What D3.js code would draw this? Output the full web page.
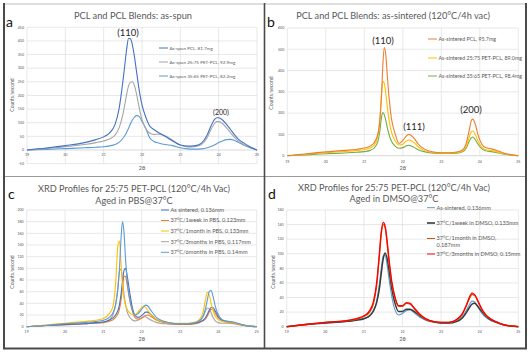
<!DOCTYPE html>
<html><head><meta charset="utf-8">
<script src="https://cdn.jsdelivr.net/npm/d3@7"></script>
<style>body{margin:0;background:#fff}svg{display:block}text{font-family:Lato,"Open Sans",sans-serif}</style>
</head><body>
<svg id="chart" width="530" height="356"></svg>
<script>
// ---------- DATA ----------
const xTicks = [19, 20, 21, 22, 23, 24, 25];
// Panel a: as-spun
const aYTicks = [-50, 0, 50, 100, 150, 200, 250, 300, 350, 400, 450];
const aTheta = [19,19.5,20,20.5,20.8,21.0,21.15,21.3,21.4,21.5,21.55,21.6,21.65,21.7,21.75,21.8,21.85,21.9,21.95,22.0,22.1,22.2,22.3,22.45,22.6,22.8,23.0,23.2,23.4,23.55,23.7,23.8,23.9,23.95,24.0,24.1,24.2,24.3,24.4,24.5,24.65,24.8,25];
const aPCL   = [0,7,16,27,38,48,62,95,150,250,310,370,410,408,385,345,295,245,200,165,120,88,76,62,50,33,18,14,16,25,55,88,113,118,118,110,95,77,58,42,26,13,0];
const aPET25 = [0,5,12,20,27,33,40,55,80,130,165,205,235,248,250,238,210,175,140,112,78,62,57,58,52,36,18,11,13,20,45,75,98,104,104,97,82,65,48,34,20,10,0];
const aPET35 = [0,2,5,8,10,12,15,20,28,42,52,65,80,96,110,120,126,125,118,105,78,45,32,25,20,16,8,4,3,4,8,13,19,23,27,33,38,39,36,29,18,9,0];
const aLabels = ["As-spun PCL, 81.7mg", "As-spun 25:75 PET-PCL, 92.9mg", "As-spun 35:65 PET-PCL, 82.2mg"];

// Panel b: as-sintered
const bYTicks = [0, 100, 200, 300, 400, 500, 600];
const bTheta = [19,19.5,20,20.5,20.8,21.0,21.15,21.25,21.35,21.4,21.45,21.48,21.52,21.56,21.6,21.65,21.7,21.8,21.9,22.0,22.1,22.15,22.2,22.3,22.4,22.55,22.8,23.0,23.2,23.4,23.55,23.65,23.72,23.78,23.82,23.88,23.95,24.05,24.15,24.3,24.45,24.6,24.8,25];
const bPCL   = [0,9,18,25,30,36,45,60,100,160,290,420,508,470,370,260,180,105,57,72,94,100,97,80,55,32,17,14,14,17,27,60,115,165,172,150,100,55,38,32,24,14,5,0];
const bPET25 = [0,7,14,20,24,28,36,48,90,160,300,350,340,290,225,160,115,70,50,54,70,74,72,60,42,25,14,12,12,14,22,45,85,112,116,100,70,40,28,24,18,10,4,0];
const bPET35 = [0,4,9,13,16,19,25,35,65,110,185,203,192,165,130,95,70,45,35,38,47,49,47,38,28,19,12,11,11,12,18,36,65,85,88,76,55,33,23,19,14,8,3,0];
const bLabels = ["As-sintered PCL, 95.7mg", "As-sintered 25:75 PET-PCL, 89.0mg", "As-sintered 35:65 PET-PCL, 98.4mg"];

// Panel c: aged in PBS
const cYTicks = [0, 20, 40, 60, 80, 100, 120, 140, 160, 180, 200];
const cTheta = [19,19.5,20,20.5,20.8,21.0,21.15,21.25,21.32,21.38,21.42,21.46,21.5,21.54,21.58,21.62,21.68,21.75,21.82,21.9,22.0,22.05,22.1,22.15,22.25,22.4,22.6,22.8,23.0,23.2,23.4,23.5,23.6,23.66,23.71,23.76,23.81,23.86,23.92,24.0,24.1,24.2,24.3,24.4,24.5,24.65,24.8,25];
const cAsSintered = [0,2,4,5,7,8,11,15,20,28,38,55,78,97,100,88,62,35,20,16,19,22,25,25,20,12,8,6,5,5,6,8,11,15,21,28,33,33,27,17,11,9,8,7,5,3,1,0];
const c1Week      = [0,2,3,5,6,7,9,12,16,22,30,45,68,87,86,72,48,28,16,13,15,17,19,20,17,11,7,5,4,4,5,7,10,13,18,25,30,29,23,15,10,8,7,6,5,3,1,0];
const c1Month     = [0,3,6,9,11,14,22,35,75,140,147,110,70,48,36,30,24,21,21,25,33,35,33,29,20,12,8,6,6,6,8,12,25,45,59,55,40,28,18,12,9,8,8,7,5,3,1,0];
const c3Months    = [0,2,4,5,7,8,12,20,38,70,95,99,80,55,38,26,17,12,10,11,15,17,17,15,11,7,5,4,4,4,6,9,17,26,32,31,24,16,10,7,6,6,6,5,4,2,1,0];
const c6Months    = [0,2,5,7,9,11,16,24,38,65,100,150,180,160,115,80,50,30,20,22,30,34,37,36,27,15,9,6,5,5,7,10,18,30,45,60,62,52,35,20,12,10,9,8,6,3,1,0];
const cLabels = ["As sintered, 0.136mm", "37°C/1week in PBS, 0.123mm", "37°C/1month in PBS, 0.133mm", "37°C/3months in PBS, 0.117mm", "37°C/6months in PBS, 0.14mm"];

// Panel d: aged in DMSO
const dYTicks = [0, 20, 40, 60, 80, 100, 120, 140, 160];
const dTheta = [19,19.5,20,20.5,20.8,21.0,21.15,21.25,21.33,21.4,21.45,21.5,21.55,21.6,21.66,21.72,21.8,21.9,22.0,22.1,22.2,22.3,22.45,22.6,22.8,23.0,23.2,23.4,23.55,23.65,23.73,23.8,23.87,23.95,24.05,24.15,24.3,24.45,24.6,24.8,25];
const dAsSintered = [0,3,5,7,9,11,15,22,35,58,80,97,98,85,62,42,24,16,18,22,23,19,13,9,6,5,5,8,14,22,30,35,34,27,19,13,8,5,3,1,0];
const d1Week      = [0,3,5,7,9,11,15,22,33,52,73,93,101,94,74,53,33,21,21,24,24,21,15,10,7,5,5,7,12,19,26,31,32,28,21,15,9,6,3,1,0];
const d1Month     = [0,3,6,8,10,14,20,32,56,96,127,140,136,115,85,60,40,28,28,32,31,25,16,10,7,6,6,9,17,28,38,44,43,35,24,16,10,6,3,1,0];
const d3Months    = [0,3,6,8,11,15,22,35,60,100,130,143,138,118,88,63,42,29,29,33,32,26,17,11,7,6,6,10,18,29,40,46,44,36,25,17,10,6,3,1,0];
const dLabels = ["As-sintered, 0.136mm", "37°C/1week in DMSO, 0.133mm", ["37°C/1month in DMSO,", "0.187mm"], "37°C/3months in DMSO, 0.15mm"];

// ---------- DRAW ----------
const svg = d3.select("#chart");
const TXT = "#595959", GRID = "#d9d9d9";

function fitFont(sel, target) {
  const w = sel.node().getComputedTextLength();
  const fs = parseFloat(sel.attr("font-size"));
  sel.attr("font-size", (fs * target / w).toFixed(2));
}

function panel(o) {
  const g = svg.append("g");
  const x = d3.scaleLinear().domain([19, 25]).range(o.xr);
  const y = d3.scaleLinear().domain(o.yd).range(o.yr);
  // grid
  g.selectAll(".hg").data(o.yTicks).join("line")
    .attr("x1", o.xr[0]).attr("x2", o.xr[1])
    .attr("y1", d => y(d)).attr("y2", d => y(d))
    .attr("stroke", d => d === 0 ? "#bfbfbf" : GRID).attr("stroke-width", 0.6);
  g.selectAll(".vg").data(xTicks).join("line")
    .attr("x1", d => x(d)).attr("x2", d => x(d))
    .attr("y1", y(o.yd[1])).attr("y2", y(o.yd[0]))
    .attr("stroke", GRID).attr("stroke-width", 0.6);
  // tick labels
  g.selectAll(".yl").data(o.yTicks).join("text")
    .attr("x", o.xr[0] - 3).attr("y", d => y(d)).attr("dy", "0.35em")
    .attr("text-anchor", "end").attr("font-size", 3.6).attr("fill", TXT).text(d => d);
  g.selectAll(".xl").data(xTicks).join("text")
    .attr("x", d => x(d)).attr("y", o.xLabY)
    .attr("text-anchor", "middle").attr("font-size", 3.6).attr("fill", TXT).text(d => d);
  g.append("text").attr("x", (o.xr[0] + o.xr[1]) / 2).attr("y", o.xTitleY)
    .attr("text-anchor", "middle").attr("font-size", 5.5).attr("fill", TXT).text("2θ");
  g.append("text").attr("transform", `translate(${o.yTitleX},${o.yTitleY}) rotate(-90)`)
    .attr("text-anchor", "middle").attr("font-size", 5).attr("fill", TXT).text("Counts/second");
  // series
  const line = d3.line().x(d => x(d[0])).y(d => y(d[1])).curve(d3.curveMonotoneX);
  o.series.forEach(s => {
    g.append("path").attr("d", line(o.theta.map((t, i) => [t, s.v[i]])))
      .attr("fill", "none").attr("stroke", s.c).attr("stroke-width", s.w || 1.1)
      .attr("stroke-linejoin", "round");
  });
  // legend
  o.legend.forEach((s, i) => {
    const ly = o.legY[i];
    g.append("line").attr("x1", o.legX).attr("x2", o.legX + o.legLen)
      .attr("y1", ly).attr("y2", ly).attr("stroke", s.c).attr("stroke-width", s.w || 1);
    const lines = Array.isArray(s.label) ? s.label : [s.label];
    lines.forEach((t, j) => {
      g.append("text").attr("x", o.legX + o.legLen + 1.5).attr("y", ly + j * o.legFs * 1.25)
        .attr("dy", "0.35em").attr("font-size", o.legFs).attr("fill", TXT).text(t);
    });
  });
  // titles
  o.title.forEach((t, i) => {
    const tt = g.append("text").attr("x", o.titleX).attr("y", o.titleY[i])
      .attr("text-anchor", "middle").attr("font-size", 10).attr("fill", TXT).text(t);
    if (o.titleW[i]) fitFont(tt, o.titleW[i]);
  });
  g.append("text").attr("x", o.letter[0]).attr("y", o.letter[1])
    .attr("font-size", 14).attr("fill", "#111").text(o.letter[2]);
  (o.notes || []).forEach(n => {
    g.append("text").attr("x", n[0]).attr("y", n[1]).attr("text-anchor", "middle")
      .attr("font-size", n[3]).attr("fill", "#262626").text(n[2]);
  });
}

const ca = ["#4472C4", "#A5A5A5", "#5B9BD5"];
panel({
  xr: [27, 257], yd: [-50, 450], yr: [163.6, 27.3], yTicks: aYTicks, theta: aTheta,
  xLabY: 155.5, xTitleY: 170, yTitleX: 14, yTitleY: 95,
  series: [{v: aPET35, c: ca[2]}, {v: aPET25, c: ca[1]}, {v: aPCL, c: ca[0]}],
  legend: aLabels.map((l, i) => ({label: l, c: ca[i]})),
  legX: 159, legLen: 9, legY: [48, 62, 76], legFs: 4.6,
  title: ["PCL and PCL Blends: as-spun"], titleX: 133, titleY: [19.3], titleW: [118],
  letter: [6, 27, "a"],
  notes: [[128, 36, "(110)", 9.5], [221, 115, "(200)", 7]]
});

const cb = ["#ED7D31", "#FFC000", "#70AD47"];
panel({
  xr: [287.3, 518.3], yd: [0, 600], yr: [155.7, 28], yTicks: bYTicks, theta: bTheta,
  xLabY: 163, xTitleY: 170, yTitleX: 273, yTitleY: 93,
  series: [{v: bPET35, c: cb[2]}, {v: bPET25, c: cb[1]}, {v: bPCL, c: cb[0]}],
  legend: bLabels.map((l, i) => ({label: l, c: cb[i]})),
  legX: 428, legLen: 9, legY: [39, 58, 76], legFs: 5.3,
  title: ["PCL and PCL Blends: as-sintered (120°C/4h vac)"], titleX: 393, titleY: [19.3], titleW: [194],
  letter: [267, 27, "b"],
  notes: [[383, 43.5, "(110)", 9.5], [414, 129.5, "(111)", 9.5], [471, 113, "(200)", 9.5]]
});

const cc = ["#4472C4", "#ED7D31", "#FFC000", "#A5A5A5", "#5B9BD5"];
panel({
  xr: [26.7, 256.7], yd: [0, 200], yr: [326.7, 210], yTicks: cYTicks, theta: cTheta,
  xLabY: 333, xTitleY: 341, yTitleX: 14, yTitleY: 272,
  series: [{v: c3Months, c: cc[3]}, {v: c1Week, c: cc[1]}, {v: cAsSintered, c: cc[0]}, {v: c1Month, c: cc[2]}, {v: c6Months, c: cc[4]}],
  legend: cLabels.map((l, i) => ({label: l, c: cc[i]})),
  legX: 161, legLen: 8, legY: [210, 220.5, 231, 241.7, 252.3], legFs: 5.6,
  title: ["XRD Profiles for 25:75 PET-PCL (120°C/4h Vac)", "Aged in PBS@37°C"], titleX: 134, titleY: [192.3, 203.5], titleW: [192, 0],
  letter: [8, 198.5, "c"]
});

const cd = ["#5B9BD5", "#3a3a3a", "#C55A11", "#FF0000"];
panel({
  xr: [286.7, 518.3], yd: [0, 160], yr: [326.7, 210], yTicks: dYTicks, theta: dTheta,
  xLabY: 333, xTitleY: 341, yTitleX: 275, yTitleY: 272,
  series: [{v: dAsSintered, c: cd[0], w: 1.1}, {v: d1Week, c: cd[1], w: 1.5}, {v: d1Month, c: cd[2], w: 1.3}, {v: d3Months, c: cd[3], w: 1.3}],
  legend: dLabels.map((l, i) => ({label: l, c: cd[i], w: i === 1 ? 1.6 : 1})),
  legX: 427, legLen: 8, legY: [207.7, 223, 238.5, 254], legFs: 5.6,
  title: ["XRD Profiles for 25:75 PET-PCL (120°C/4h Vac)", "Aged in DMSO@37°C"], titleX: 394, titleY: [190.7, 202], titleW: [192, 0],
  letter: [268, 198.5, "d"]
});
// second title lines use the same size as first lines
svg.selectAll("g").each(function() {
  const ts = d3.select(this).selectAll("text").filter(function() {
    return this.textContent.startsWith("XRD") || this.textContent.startsWith("Aged");
  });
  const nodes = ts.nodes();
  if (nodes.length === 2) d3.select(nodes[1]).attr("font-size", d3.select(nodes[0]).attr("font-size"));
});

// frames
const F = [
  [4, 4, 526, 4, "#bdbdbd", 1],
  [4, 176.5, 526, 176.5, "#9a9a9a", 1],
  [4, 3, 4, 349, "#4a4a4a", 2],
  [526, 3, 526, 349, "#4a4a4a", 2],
  [264.5, 3, 264.5, 349, "#4a4a4a", 1.6],
  [3, 348.5, 527, 348.5, "#4a4a4a", 2]
];
svg.selectAll(".fr").data(F).join("line")
  .attr("x1", d => d[0]).attr("y1", d => d[1]).attr("x2", d => d[2]).attr("y2", d => d[3])
  .attr("stroke", d => d[4]).attr("stroke-width", d => d[5]);
</script>
</body></html>
